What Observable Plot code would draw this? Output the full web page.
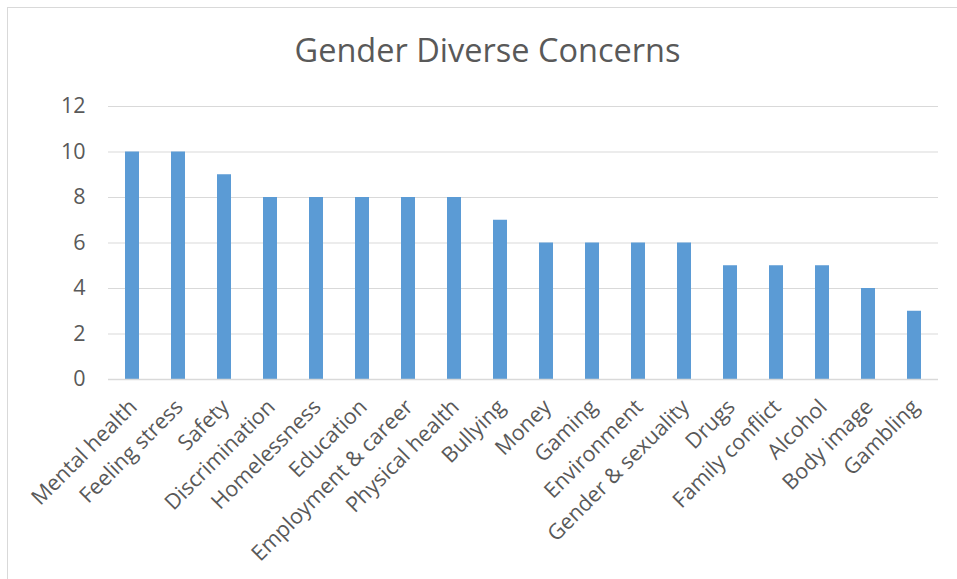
<!DOCTYPE html>
<html>
<head>
<meta charset="utf-8">
<script src="https://cdn.jsdelivr.net/npm/d3@7"></script>
<script src="https://cdn.jsdelivr.net/npm/@observablehq/plot@0.6"></script>
<style>
  html, body { margin: 0; padding: 0; background: #fff; }
  #wrap { position: relative; width: 957px; height: 579px; overflow: hidden; font-family: "Open Sans", sans-serif; }
  #frame { position: absolute; left: 7px; top: 7px; width: 960px; height: 600px; border-left: 1px solid #d9d9d9; border-top: 1px solid #d9d9d9; box-sizing: border-box; }
  #title { position: absolute; left: 0; width: 975px; top: 28px; text-align: center; font-size: 32.5px; color: #595959; line-height: 1.36; }
  #chart { position: absolute; left: 0; top: 0; }
</style>
</head>
<body>
<div id="wrap">
  <div id="frame"></div>
  <div id="chart"></div>
  <div id="title">Gender Diverse Concerns</div>
</div>
<script>
const categories = ["Mental health", "Feeling stress", "Safety", "Discrimination", "Homelessness", "Education", "Employment & career", "Physical health", "Bullying", "Money", "Gaming", "Environment", "Gender & sexuality", "Drugs", "Family conflict", "Alcohol", "Body image", "Gambling"];
const values = [10, 10, 9, 8, 8, 8, 8, 8, 7, 6, 6, 6, 6, 5, 5, 5, 4, 3];
const yTicks = [0, 2, 4, 6, 8, 10, 12];

const data = categories.map((c, i) => ({category: c, value: values[i]}));

const chart = Plot.plot({
  width: 957,
  height: 579,
  marginTop: 106,
  marginBottom: 200,
  marginLeft: 108,
  marginRight: 19,
  style: {fontFamily: "Open Sans, sans-serif", background: "transparent"},
  x: {domain: categories, paddingInner: 0.69, paddingOuter: 0.345, axis: null},
  y: {domain: [0, 12], axis: null},
  marks: [
    Plot.gridY(yTicks, {stroke: "#d9d9d9", strokeOpacity: 1, strokeWidth: 1}),
    Plot.barY(data, {x: "category", y: "value", fill: "#5b9bd5"}),
    Plot.ruleY([0], {stroke: "#d9d9d9", strokeWidth: 1.5}),
    Plot.axisY(yTicks, {tickSize: 0, tickPadding: 23, fontSize: 21.5, fill: "#595959", label: null}),
    Plot.text(data, {
      x: "category",
      frameAnchor: "bottom",
      text: "category",
      rotate: -45,
      textAnchor: "end",
      lineAnchor: "top",
      dx: -5,
      dy: 18,
      fontSize: 21.5,
      fill: "#595959"
    })
  ]
});
document.getElementById("chart").appendChild(chart);
</script>
</body>
</html>
